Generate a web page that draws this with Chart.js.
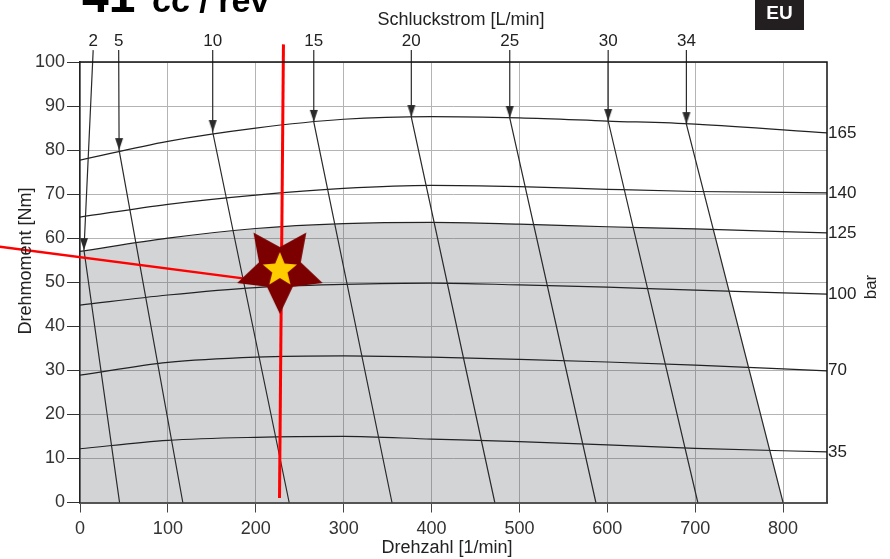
<!DOCTYPE html>
<html><head><meta charset="utf-8">
<script src="https://cdn.jsdelivr.net/npm/chart.js@4/dist/chart.umd.min.js"></script>
<style>html,body{margin:0;padding:0;background:#fff;overflow:hidden}canvas{display:block}</style>
</head><body>
<canvas id="c" width="890" height="559"></canvas>
<script>
// ---------- data ----------
const rpmPoints = [0, 100, 200, 300, 400, 500, 600, 700, 850];
const pressureBar = [165, 140, 125, 100, 70, 35];
const torque165 = [77.7, 82.0, 85.0, 87.0, 87.6, 87.3, 86.6, 85.9, 83.9];
const torque140 = [64.8, 67.7, 69.8, 71.3, 72.0, 71.7, 71.1, 70.6, 70.3];
const torque125 = [57.0, 60.0, 62.2, 63.3, 63.6, 63.2, 62.6, 62.1, 61.2];
const torque100 = [44.8, 47.1, 48.8, 49.5, 49.8, 49.4, 48.9, 48.2, 47.3];
const torque70  = [28.9, 31.8, 33.0, 33.3, 33.0, 32.5, 31.9, 31.2, 29.9];
const torque35  = [12.2, 14.1, 14.8, 15.0, 14.4, 13.8, 13.1, 12.3, 11.5];
const pressureCurves = [torque165, torque140, torque125, torque100, torque70, torque35];

const flowLpm       = [2, 5, 10, 15, 20, 25, 30, 34];
const flowLabelRpm  = [15, 44, 151, 266, 377, 489, 601, 690];
const flowTipRpm    = [4.5, 44.5, 151, 266, 377, 489, 601, 690];
const flowTipTorque = [57.3, 80.0, 84.1, 86.4, 87.5, 87.3, 86.6, 85.9];
const flowZeroRpm   = [45, 117, 238, 355, 472, 587, 703, 800];
const flowTopTorque = 102.7;

const opPointRpm = 227.4, opPointTorque = 53.0;
const redVerticalRpm = [231.5, 227], redVerticalTorque = [104, 1];
const redDiagRpm = [-93, 227], redDiagTorque = [58.1, 49.8];

const xTickValues = [0, 100, 200, 300, 400, 500, 600, 700, 800];
const yTickValues = [0, 10, 20, 30, 40, 50, 60, 70, 80, 90, 100];

// ---------- helpers ----------
const FONT = '"Liberation Sans", Arial, Helvetica, sans-serif';
const pts = (xs, ys) => xs.map((x, i) => ({x, y: ys[i]}));

// intersection of max-flow line with the 125 bar curve (shaded boundary)
function boundaryPoint() {
  const i = flowLpm.length - 1;
  const x0 = flowTipRpm[i], y0 = flowTipTorque[i], x1 = flowZeroRpm[i];
  const lineX = t => x0 + (x1 - x0) * (y0 - t) / y0;
  const a = 7, b = 8; // segment 700..850
  for (let k = 0; k <= 1000; k++) {
    const r = rpmPoints[a] + (rpmPoints[b] - rpmPoints[a]) * k / 1000;
    const t = torque125[a] + (torque125[b] - torque125[a]) * k / 1000;
    if (lineX(t) <= r) return {x: r, y: t};
  }
  return {x: rpmPoints[a], y: torque125[a]};
}
const bp = boundaryPoint();
const shaded = pts(rpmPoints.slice(0, 8), torque125.slice(0, 8))
  .concat([bp, {x: flowZeroRpm[flowZeroRpm.length - 1], y: 0}]);

// arrow head image (tip at centre)
function arrowImg() {
  const c = document.createElement('canvas'); c.width = 10; c.height = 26;
  const g = c.getContext('2d'); g.fillStyle = '#2a2a2a';
  g.beginPath(); g.moveTo(1, 1); g.lineTo(9, 1); g.lineTo(5, 13); g.closePath(); g.fill();
  return c;
}
function starPath(g, cx, cy, ro, ri, rot) {
  g.beginPath();
  for (let k = 0; k < 10; k++) {
    const r = k % 2 ? ri : ro;
    const a = rot + k * Math.PI / 5 - Math.PI / 2;
    const px = cx + r * Math.cos(a), py = cy + r * Math.sin(a);
    k ? g.lineTo(px, py) : g.moveTo(px, py);
  }
  g.closePath();
}
function starImg() {
  const c = document.createElement('canvas'); c.width = 100; c.height = 100;
  const g = c.getContext('2d');
  g.fillStyle = '#7d0000'; starPath(g, 50, 50, 45, 22, Math.PI); g.fill();
  g.fillStyle = '#ffcc00'; starPath(g, 50, 51, 18, 8, 0); g.fill();
  return c;
}

const datasets = [];
datasets.push({ label: 'star', data: [{x: opPointRpm, y: opPointTorque}], showLine: false,
  pointStyle: starImg(), pointRadius: 40, order: 0, clip: false });
datasets.push({ label: 'redV', data: pts(redVerticalRpm, redVerticalTorque), showLine: true,
  borderColor: '#ff0000', borderWidth: 3, pointRadius: 0, order: 1, clip: false });
datasets.push({ label: 'redD', data: pts(redDiagRpm, redDiagTorque), showLine: true,
  borderColor: '#ff0000', borderWidth: 2.5, pointRadius: 0, order: 1, clip: false });
datasets.push({ label: 'arrows', data: pts(flowTipRpm, flowTipTorque), showLine: false,
  pointStyle: arrowImg(), pointRadius: 6, order: 2, clip: false });
flowLpm.forEach((q, i) => {
  datasets.push({ label: q + ' L/min', showLine: true, order: 3, clip: false,
    data: [{x: flowLabelRpm[i], y: flowTopTorque}, {x: flowTipRpm[i], y: flowTipTorque[i]}, {x: flowZeroRpm[i], y: 0}],
    borderColor: '#2a2a2a', borderWidth: 1.2, pointRadius: 0 });
});
pressureBar.forEach((p, i) => {
  datasets.push({ label: p + ' bar', showLine: true, order: 4, data: pts(rpmPoints, pressureCurves[i]),
    borderColor: '#222', borderWidth: 1.2, pointRadius: 0, cubicInterpolationMode: 'monotone' });
});
datasets.push({ label: 'area', data: shaded, showLine: true, fill: 'origin', order: 10,
  borderWidth: 0, borderColor: 'rgba(0,0,0,0)', backgroundColor: 'rgba(79,82,90,0.25)', pointRadius: 0 });

const decor = {
  id: 'decor',
  afterDraw(chart) {
    const g = chart.ctx, a = chart.chartArea;
    const xs = chart.scales.x, ys = chart.scales.y;
    g.save();
    // top and right frame
    g.strokeStyle = '#111'; g.lineWidth = 1.5;
    g.beginPath(); g.moveTo(a.left, a.top); g.lineTo(a.right, a.top); g.lineTo(a.right, a.bottom); g.stroke();
    // flow labels
    g.fillStyle = '#222'; g.font = '17px ' + FONT; g.textAlign = 'center'; g.textBaseline = 'alphabetic';
    flowLpm.forEach((q, i) => g.fillText(String(q), xs.getPixelForValue(flowLabelRpm[i]), a.top - 16));
    // pressure labels
    g.textAlign = 'left'; g.textBaseline = 'middle';
    pressureBar.forEach((p, i) => {
      const c = pressureCurves[i];
      g.fillText(String(p), a.right + 1, ys.getPixelForValue(c[c.length - 1]));
    });
    // axis titles
    g.font = '18px ' + FONT; g.textAlign = 'center';
    g.fillText('Schluckstrom [L/min]', 461, 20);
    g.fillText('Drehzahl [1/min]', 447, 548);
    g.save(); g.translate(26, 261); g.rotate(-Math.PI / 2); g.fillText('Drehmoment [Nm]', 0, 0); g.restore();
    g.save(); g.translate(871, 287); g.rotate(-Math.PI / 2); g.font = '17px ' + FONT; g.fillText('bar', 0, 0); g.restore();
    // title
    g.fillStyle = '#000'; g.textAlign = 'left'; g.textBaseline = 'alphabetic';
    g.font = 'bold 48px ' + FONT; g.fillText('41', 82, 12);
    g.font = 'bold 34px ' + FONT; g.fillText('cc / rev', 152, 12);
    // EU badge
    g.fillStyle = '#231f20'; g.fillRect(755, 0, 49, 30);
    g.fillStyle = '#fff'; g.font = 'bold 19px ' + FONT; g.textAlign = 'center'; g.textBaseline = 'middle';
    g.fillText('EU', 779.5, 14);
    g.restore();
  }
};

new Chart(document.getElementById('c'), {
  type: 'scatter',
  data: { datasets },
  plugins: [decor],
  options: {
    responsive: false, animation: false, devicePixelRatio: 1,
    layout: { padding: { left: 0, right: 63, top: 62, bottom: 0 } },
    plugins: { legend: { display: false }, tooltip: { enabled: false } },
    scales: {
      x: {
        type: 'linear', min: 0, max: 850,
        afterBuildTicks: s => { s.ticks = xTickValues.map(v => ({value: v})); },
        afterFit: s => { s.height = 56.5; },
        ticks: { color: '#333', font: { family: FONT, size: 18 }, padding: 6, maxRotation: 0 },
        grid: { color: '#b4b4b4', lineWidth: 1, tickLength: 10, tickColor: '#444' },
        border: { color: '#555', width: 2 }
      },
      y: {
        min: 0, max: 100,
        afterBuildTicks: s => { s.ticks = yTickValues.map(v => ({value: v})); },
        afterFit: s => { s.width = 80; },
        ticks: { color: '#333', font: { family: FONT, size: 18 }, padding: 2 },
        grid: { color: '#b4b4b4', lineWidth: 1, tickLength: 13, tickColor: '#333' },
        border: { color: '#222', width: 1.5 }
      }
    }
  }
});
</script>
</body></html>
